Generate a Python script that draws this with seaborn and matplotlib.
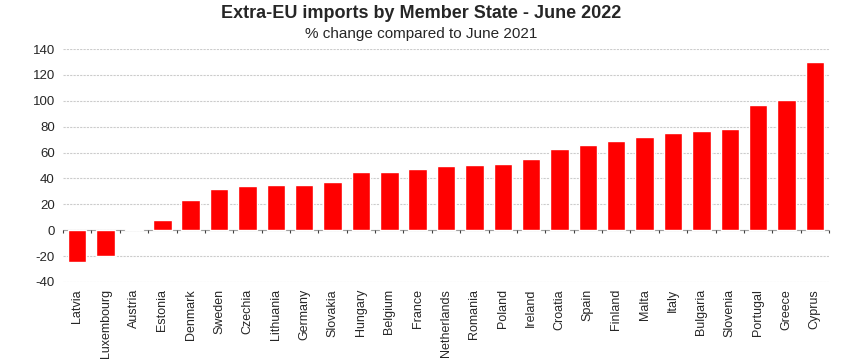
import numpy as np
import pandas as pd
import matplotlib
matplotlib.use("Agg")
import matplotlib.pyplot as plt
import seaborn as sns

countries = ["Latvia", "Luxembourg", "Austria", "Estonia", "Denmark", "Sweden",
             "Czechia", "Lithuania", "Germany", "Slovakia", "Hungary", "Belgium",
             "France", "Netherlands", "Romania", "Poland", "Ireland", "Croatia",
             "Spain", "Finland", "Malta", "Italy", "Bulgaria", "Slovenia",
             "Portugal", "Greece", "Cyprus"]
pct_change = [-24.5, -20.0, 1.0, 7.5, 23.4, 31.7,
              34.0, 34.8, 34.8, 37.4, 44.9, 44.9,
              47.2, 49.5, 50.3, 51.0, 55.2, 62.6,
              65.5, 68.8, 72.2, 75.0, 76.6, 78.1,
              96.4, 100.5, 130.0]
y_ticks = [-40, -20, 0, 20, 40, 60, 80, 100, 120, 140]

df = pd.DataFrame({"country": countries, "change": pct_change})

sns.set_style("white")
plt.rcParams['font.family'] = ['Liberation Sans', 'DejaVu Sans']

fig = plt.figure(figsize=(8.6, 3.61), dpi=100)
ax = fig.add_axes([0.0733, 0.219, 0.8907, 0.645])

sns.barplot(data=df, x="country", y="change", color="#ff0000", saturation=1,
            width=0.65, ax=ax, zorder=3)

ax.set_ylim(-40, 140)
ax.set_xlim(-0.5, len(countries) - 0.5)
ax.set_yticks(y_ticks)
ax.set_yticklabels([str(t) for t in y_ticks], fontsize=9.5)
ax.yaxis.grid(True, color="#cccccc", linewidth=0.8, linestyle=(0, (2, 1)))
ax.set_axisbelow(True)
ax.tick_params(axis="y", length=0, pad=6)
ax.tick_params(axis="x", length=0, pad=5)
ax.set_xticks(range(len(countries)))
ax.set_xticklabels(countries, rotation=90, fontsize=9)
ax.set_xlabel("")
ax.set_ylabel("")
for s in ax.spines.values():
    s.set_visible(False)

# zero axis with category separators
ax.axhline(0, color="#a0a0a0", linewidth=0.8, zorder=2)
bounds = np.arange(len(countries) + 1) - 0.5
ax.vlines(bounds, -2.5, 0, color="#404040", linewidth=0.8, zorder=2, clip_on=False)

fig.text(0.49, 0.962, "Extra-EU imports by Member State - June 2022",
         ha="center", va="center", fontsize=13, fontweight="bold")
fig.text(0.49, 0.905, "% change compared to June 2021",
         ha="center", va="center", fontsize=11)

fig.savefig("out.png", dpi=100)
